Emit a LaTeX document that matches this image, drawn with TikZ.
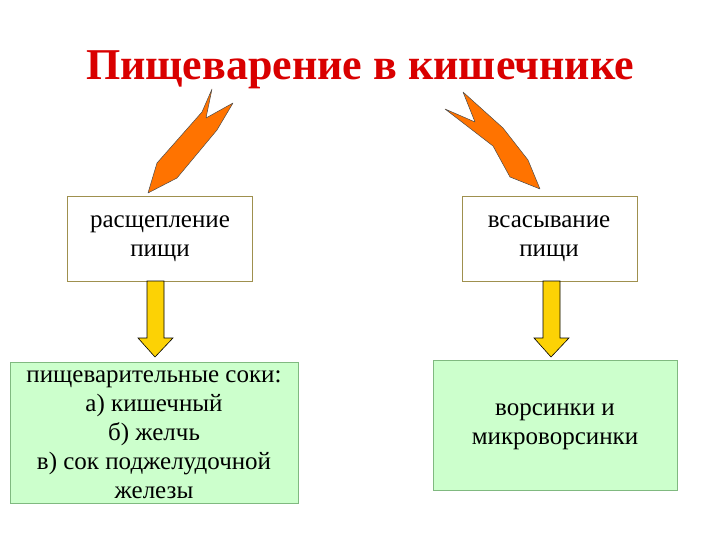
\documentclass[tikz,border=0pt]{standalone}
\usepackage{fontspec}
\setmainfont{Liberation Serif}
\begin{document}
\begin{tikzpicture}[x=1pt,y=-1pt,
  topbox/.style={draw=black!50!yellow!70!brown, line width=0.8pt, fill=white},
  greenbox/.style={draw=green!45!black!50, fill=green!20, line width=0.8pt},
  txt/.style={align=center, font=\fontsize{25}{29}\selectfont, text=black},
  orangearrow/.style={fill=orange!90!red, draw=black!70, line width=0.5pt, line join=round},
  yellowarrow/.style={fill=yellow!70!orange, draw=black, line width=0.6pt}]
\useasboundingbox (0,0) rectangle (720,540);
\node (title) at (360,70) {\fontsize{44}{50}\selectfont\bfseries\color{red!85!black}Пищеварение в кишечнике};
% top boxes
\draw[topbox] (67,196) rectangle (252,281);
\node[txt] (a) at (160,239) {расщепление\\пищи};
\draw[topbox] (462,196) rectangle (637,281);
\node[txt] (b) at (549,239) {всасывание\\пищи};
% bottom boxes
\draw[greenbox] (10,362) rectangle (298,503);
\node[txt] (c) at (154,435) {пищеварительные соки:\\а) кишечный\\б) желчь\\в) сок поджелудочной\\железы};
\draw[greenbox] (433,360) rectangle (677,490);
\node[txt] (d) at (555,427) {ворсинки и\\микроворсинки};
% orange arrows
\draw[orangearrow] (148,193) -- (157,163) -- (202,112) -- (212,89) -- (206,118) -- (233,103) -- (217,130) -- (177,178) -- cycle;
\draw[orangearrow] (540,189) -- (528,160) -- (503,128) -- (463,92) -- (475,122) -- (445,109) -- (493,146) -- (510,177) -- cycle;
% yellow arrows
\draw[yellowarrow] (147,281) -- (164,281) -- (164,338) -- (173,338) -- (155,357) -- (138,338) -- (147,338) -- cycle;
\draw[yellowarrow] (543,281) -- (560,281) -- (560,338) -- (569,338) -- (551,357) -- (534,338) -- (543,338) -- cycle;
\end{tikzpicture}
\end{document}
